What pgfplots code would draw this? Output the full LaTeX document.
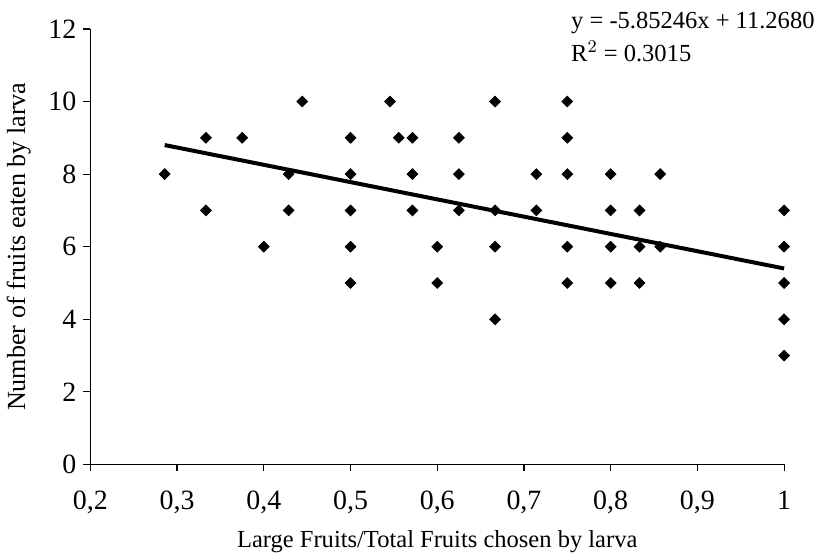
\documentclass[border=0pt]{standalone}
\usepackage{pgfplots}
\pgfplotsset{compat=1.18}
\usepackage{fontspec}
\setmainfont{Liberation Serif}

\begin{document}
\begin{tikzpicture}
\begin{axis}[
    scale only axis,
    width=348pt, height=218.5pt,
    xmin=0.2, xmax=1,
    ymin=0, ymax=12,
    xtick={0.2,0.3,0.4,0.5,0.6,0.7,0.8,0.9,1},
    ytick={0,2,4,6,8,10,12},
    axis lines*=left,
    axis line style={line width=0.6pt},
    tick align=outside,
    major tick length=3.5pt,
    tick style={line width=0.6pt, black},
    /pgf/number format/use comma,
    /pgf/number format/assume math mode=true,
    ticklabel style={font=\fontsize{14}{16}\selectfont},
    xticklabel style={yshift=-6.3pt},
    xlabel={Large Fruits/Total Fruits chosen by larva},
    ylabel={Number of fruits eaten by larva},
    xlabel style={font=\fontsize{12.3}{14}\selectfont, at={(axis description cs:0.5,-0.19)}, anchor=base},
    ylabel style={font=\fontsize{13.1}{15}\selectfont, at={(axis description cs:-0.1034,0.5)}, anchor=center},
    clip=false,
]
\addplot[only marks, mark=square*, mark size=1.9pt, mark options={rotate=45, fill=black, draw=black}]
table {
x y
0.2857 8
0.3333 9
0.3333 7
0.375 9
0.4 6
0.4286 8
0.4286 7
0.4444 10
0.5 9
0.5 8
0.5 7
0.5 6
0.5 5
0.5455 10
0.5556 9
0.5714 9
0.5714 8
0.5714 7
0.6 6
0.6 5
0.625 9
0.625 8
0.625 7
0.6667 10
0.6667 7
0.6667 6
0.6667 4
0.7143 8
0.7143 7
0.75 10
0.75 9
0.75 8
0.75 6
0.75 5
0.8 8
0.8 7
0.8 6
0.8 5
0.8333 7
0.8333 6
0.8333 5
0.8571 8
0.8571 6
1 7
1 6
1 5
1 4
1 3
};
\addplot[black, line width=2pt] coordinates {(0.2857,8.80) (1,5.40)};
\node[anchor=base west, inner sep=0pt, font=\fontsize{12.3}{14}\selectfont] at (axis cs:0.754,12) {y = -5.85246x + 11.2680};
\node[anchor=base west, inner sep=0pt, font=\fontsize{12.3}{14}\selectfont] at (axis cs:0.754,11.1) {R$^2$ = 0.3015};
\coordinate (o) at (rel axis cs:0,0);
\end{axis}
\path (o) ++(-44pt,-45.5pt) rectangle ++(408.5pt,278.5pt);
\end{tikzpicture}
\end{document}
